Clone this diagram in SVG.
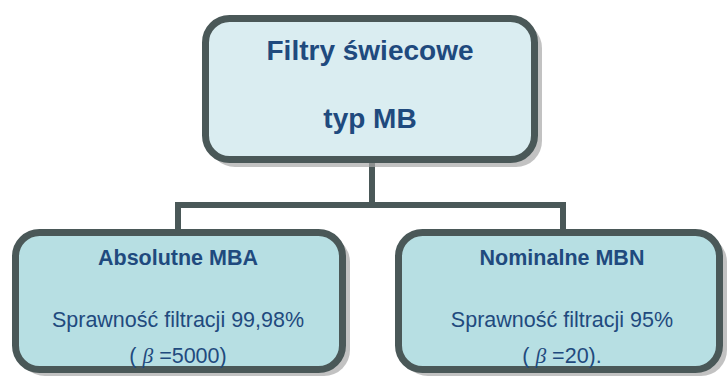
<svg xmlns="http://www.w3.org/2000/svg" width="727" height="376" viewBox="0 0 727 376">
<style>
.box{stroke:#4A5858;stroke-width:7}
.shadow{fill:#A8A8A8;opacity:0.7}
.top{fill:#DAEDF1}
.sub{fill:#B7DFE3}
.conn{fill:none;stroke:#4A5858;stroke-width:6}
text{font-family:"Liberation Sans",Arial,sans-serif;fill:#1F4A7E;text-anchor:middle}
.t1{font-size:28px;font-weight:bold}
.t2{font-size:21.5px;font-weight:bold}
.t3{font-size:21.5px}
.beta{font-family:"Liberation Serif","DejaVu Serif",serif;font-style:italic}
</style>
<rect width="727" height="376" fill="#FFFFFF"/>
<g id="connectors">
<path class="conn" d="M372 163 V205 M178 205 H563 M178 202 V231 M563 202 V231"/>
</g>
<g id="node-top">
<rect class="shadow" x="209" y="22" width="333" height="145" rx="26"/>
<rect class="box top" x="205.5" y="18.5" width="329" height="141" rx="24"/>
<text class="t1" x="370" y="60">Filtry świecowe</text>
<text class="t1" x="370" y="128">typ MB</text>
</g>
<g id="node-mba">
<rect class="shadow" x="19" y="236" width="331" height="140" rx="26"/>
<rect class="box sub" x="15.5" y="232.5" width="327" height="137" rx="24"/>
<text class="t2" x="178" y="265">Absolutne MBA</text>
<text class="t3" x="178" y="327">Sprawność filtracji 99,98%</text>
<text class="t3" x="178" y="363">( <tspan class="beta">β</tspan> =5000)</text>
</g>
<g id="node-mbn">
<rect class="shadow" x="402" y="236" width="325" height="140" rx="26"/>
<rect class="box sub" x="398.5" y="232.5" width="321" height="137" rx="24"/>
<text class="t2" x="562" y="265">Nominalne MBN</text>
<text class="t3" x="562" y="327">Sprawność filtracji 95%</text>
<text class="t3" x="562" y="363">( <tspan class="beta">β</tspan> =20).</text>
</g>
</svg>
